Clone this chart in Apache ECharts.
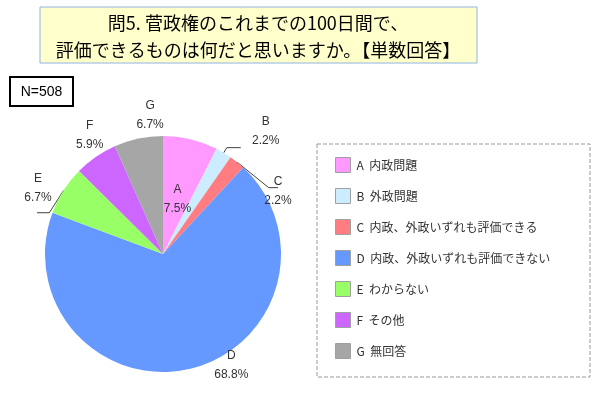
<!DOCTYPE html>
<html>
<head>
<meta charset="utf-8">
<script src="https://cdn.jsdelivr.net/npm/echarts@6/dist/echarts.min.js"></script>
<style>
  html, body { margin: 0; padding: 0; background: #fff; }
  #chart { width: 600px; height: 397px; }
</style>
</head>
<body>
<div id="chart"></div>
<script>
// 選択肢
const codes = ['A', 'B', 'C', 'D', 'E', 'F', 'G']
const answers = ['内政問題', '外政問題', '内政、外政いずれも評価できる', '内政、外政いずれも評価できない', 'わからない', 'その他', '無回答']
// 割合(%)
const ratios = [7.5, 2.2, 2.2, 68.8, 6.7, 5.9, 6.7]
const colors = ['#FF99FF', '#CCECFF', '#FF7C80', '#6699FF', '#99FF66', '#CC66FF', '#A6A6A6']
const titleLines = ['問5. 菅政権のこれまでの100日間で、', '評価できるものは何だと思いますか。【単数回答】']
const sampleText = 'N=508'

const font = '"Liberation Sans", "Noto Sans CJK JP", sans-serif'
const jpFont = '"Noto Sans CJK JP", sans-serif'

// ラベル位置の微調整 (Excel の配置に寄せる)
const labelShift = {
  A: [0, 5],
  B: [20, -16],
  C: [-5, 4],
  D: [54, 51],
  E: [6, -25],
  F: [35, -38],
  G: [32, -18]
}

const pieData = codes.map((c, i) => {
  const item = { name: c, value: ratios[i], itemStyle: { color: colors[i] } }
  if (c === 'A' || c === 'D') item.label = { position: 'inside' }
  if (c === 'F' || c === 'G') item.labelLine = { show: false }
  return item
})

const chart = echarts.init(document.getElementById('chart'))
chart.setOption({
  animation: false,
  graphic: [
    // タイトル枠
    {
      type: 'rect',
      shape: { x: 40, y: 7, width: 437, height: 56 },
      style: { fill: '#FFFFCC', stroke: '#8EB4E3', lineWidth: 1 },
      z: 0
    },
    {
      type: 'text',
      x: 258, y: 37,
      style: {
        text: titleLines.join('\n'),
        font: '18px ' + jpFont,
        lineHeight: 27,
        fill: '#000',
        align: 'center',
        verticalAlign: 'middle'
      },
      z: 1
    },
    // N=508
    {
      type: 'rect',
      shape: { x: 10, y: 77, width: 63, height: 29 },
      style: { fill: '#fff', stroke: '#000', lineWidth: 2 }
    },
    {
      type: 'text',
      x: 41.5, y: 92,
      style: {
        text: sampleText,
        font: '14px ' + font,
        fill: '#000',
        align: 'center',
        verticalAlign: 'middle'
      }
    },
    // 凡例の枠
    {
      type: 'rect',
      shape: { x: 317, y: 144, width: 273, height: 233 },
      style: { fill: 'none', stroke: '#999', lineWidth: 1, lineDash: [4, 2] }
    }
  ],
  legend: {
    orient: 'vertical',
    left: 330,
    top: 152,
    itemWidth: 15,
    itemHeight: 15,
    itemGap: 15,
    icon: 'rect',
    itemStyle: { borderColor: '#A0A0A0', borderWidth: 1 },
    textStyle: { fontSize: 12, color: '#333', fontFamily: jpFont, padding: [0, 0, 0, 1] },
    formatter: name => name + '  ' + answers[codes.indexOf(name)],
    data: codes
  },
  series: [
    {
      type: 'pie',
      center: [163, 254],
      radius: 118,
      startAngle: 90,
      clockwise: true,
      data: pieData,
      label: {
        formatter: '{b}\n{c}%',
        fontSize: 12,
        lineHeight: 19,
        color: '#333',
        fontFamily: font,
        overflow: 'none'
      },
      labelLine: {
        length: 6,
        length2: 14,
        lineStyle: { color: '#404040', width: 1 }
      },
      labelLayout: params => {
        const s = labelShift[codes[params.dataIndex]]
        return { align: 'center', dx: s[0], dy: s[1] }
      },
      emphasis: { disabled: true }
    }
  ]
})
</script>
</body>
</html>
